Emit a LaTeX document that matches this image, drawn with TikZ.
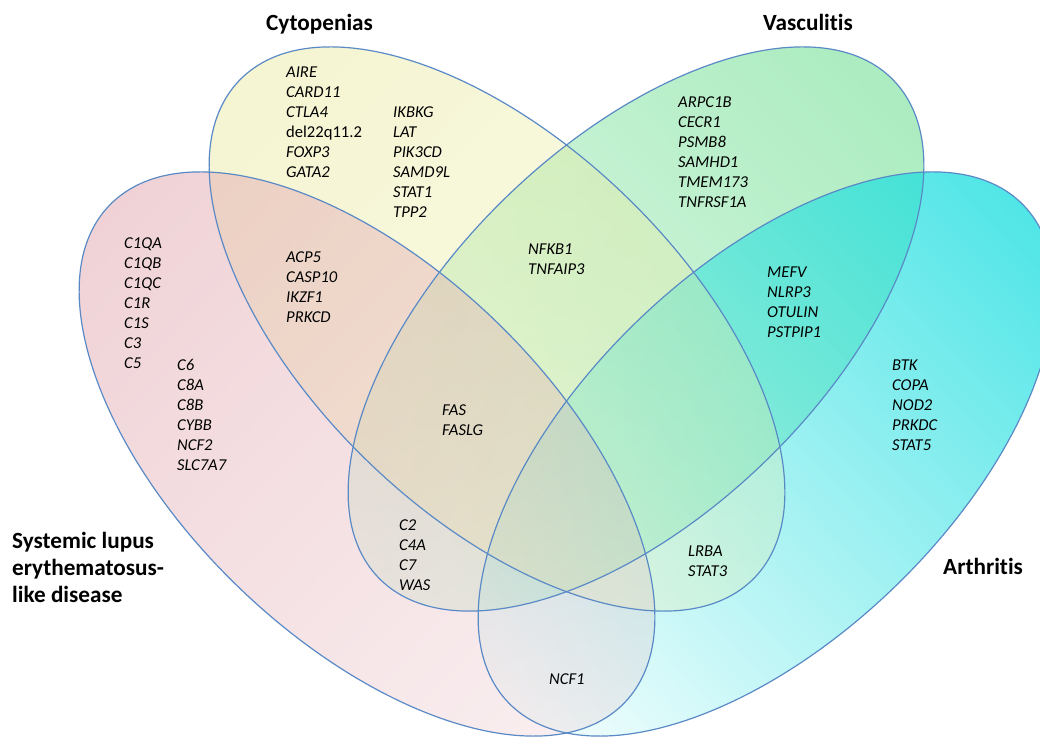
\documentclass[tikz,border=0pt]{standalone}
\usepackage{fontspec}
\setmainfont{Carlito}[Ligatures={NoCommon}]
\usetikzlibrary{fadings}

\definecolor{pinkC}{RGB}{228,176,183}
\definecolor{yelC}{RGB}{235,235,165}
\definecolor{grnC}{RGB}{110,222,145}
\definecolor{cyaC}{RGB}{30,222,224}
\definecolor{edgeC}{RGB}{90,138,198}

\tikzfading[name=fadePink, left color=transparent!43, right color=transparent!80]
\tikzfading[name=fadeYel, left color=transparent!50, right color=transparent!75]
\tikzfading[name=fadeGrn, left color=transparent!85, right color=transparent!42]
\tikzfading[name=fadeCya, left color=transparent!95, right color=transparent!22]

\begin{document}
\begin{tikzpicture}[x=1pt,y=1pt,
  genes/.style={anchor=north west, inner sep=0pt, align=left,
    font=\fontsize{16.6}{20}\selectfont\itshape},
  ttl/.style={inner sep=0pt, font=\fontsize{23.2}{27}\selectfont\bfseries},
  ring/.style={draw=edgeC, line width=1.2pt}]
\useasboundingbox (0,0) rectangle (1040,736);
\coordinate (cP) at (367,282);
\coordinate (cY) at (497,407);
\coordinate (cG) at (636,407);
\coordinate (cC) at (766,282);
\begin{scope}
\clip (0,0) rectangle (1040,736);
\begin{scope}[transform canvas={rotate around={44:(cG)}}]
  \fill[grnC, path fading=fadeGrn] (cG) ellipse [x radius=358, y radius=185];
\end{scope}
\begin{scope}[transform canvas={rotate around={44:(cC)}}]
  \fill[cyaC, path fading=fadeCya] (cC) ellipse [x radius=358, y radius=185];
\end{scope}
\begin{scope}[transform canvas={rotate around={-44:(cY)}}]
  \fill[yelC, path fading=fadeYel] (cY) ellipse [x radius=358, y radius=185];
\end{scope}
\begin{scope}[transform canvas={rotate around={-44:(cP)}}]
  \fill[pinkC, path fading=fadePink] (cP) ellipse [x radius=358, y radius=185];
\end{scope}
\draw[ring, rotate around={44:(cC)}] (cC) ellipse [x radius=358, y radius=185];
\draw[ring, rotate around={44:(cG)}] (cG) ellipse [x radius=358, y radius=185];
\draw[ring, rotate around={-44:(cY)}] (cY) ellipse [x radius=358, y radius=185];
\draw[ring, rotate around={-44:(cP)}] (cP) ellipse [x radius=358, y radius=185];
\end{scope}

% titles
\node[ttl, anchor=base west] (tC) at (266,705) {Cytopenias};
\node[ttl, anchor=base west] (tV) at (763,705) {Vasculitis};
\node[ttl, anchor=base west] (tA) at (943,161) {Arthritis};
\node[ttl, anchor=north west, align=left] (tS) at (12,207)
  {\strut Systemic lupus\\erythematosus-\\like disease};

% gene lists
\node[genes] (g1) at (286,673) {\strut AIRE\\CARD11\\CTLA4\\\upshape del22q11.2\\FOXP3\\GATA2};
\node[genes] (g2) at (393,633) {\strut IKBKG\\LAT\\PIK3CD\\SAMD9L\\STAT1\\TPP2};
\node[genes] (g3) at (124,502) {\strut C1QA\\C1QB\\C1QC\\C1R\\C1S\\C3\\C5};
\node[genes] (g4) at (177,380) {\strut C6\\C8A\\C8B\\CYBB\\NCF2\\SLC7A7};
\node[genes] (g5) at (286,488) {\strut ACP5\\CASP10\\IKZF1\\PRKCD};
\node[genes] (g6) at (678,643) {\strut ARPC1B\\CECR1\\PSMB8\\SAMHD1\\TMEM173\\TNFRSF1A};
\node[genes] (g7) at (528,496) {\strut NFKB1\\TNFAIP3};
\node[genes] (g8) at (767,473) {\strut MEFV\\NLRP3\\OTULIN\\PSTPIP1};
\node[genes] (g9) at (892,380) {\strut BTK\\COPA\\NOD2\\PRKDC\\STAT5};
\node[genes] (g10) at (442,335) {\strut FAS\\FASLG};
\node[genes] (g11) at (399,220) {\strut C2\\C4A\\C7\\WAS};
\node[genes] (g12) at (688,194) {\strut LRBA\\STAT3};
\node[genes] (g13) at (549,66) {\strut NCF1};
\end{tikzpicture}
\end{document}
